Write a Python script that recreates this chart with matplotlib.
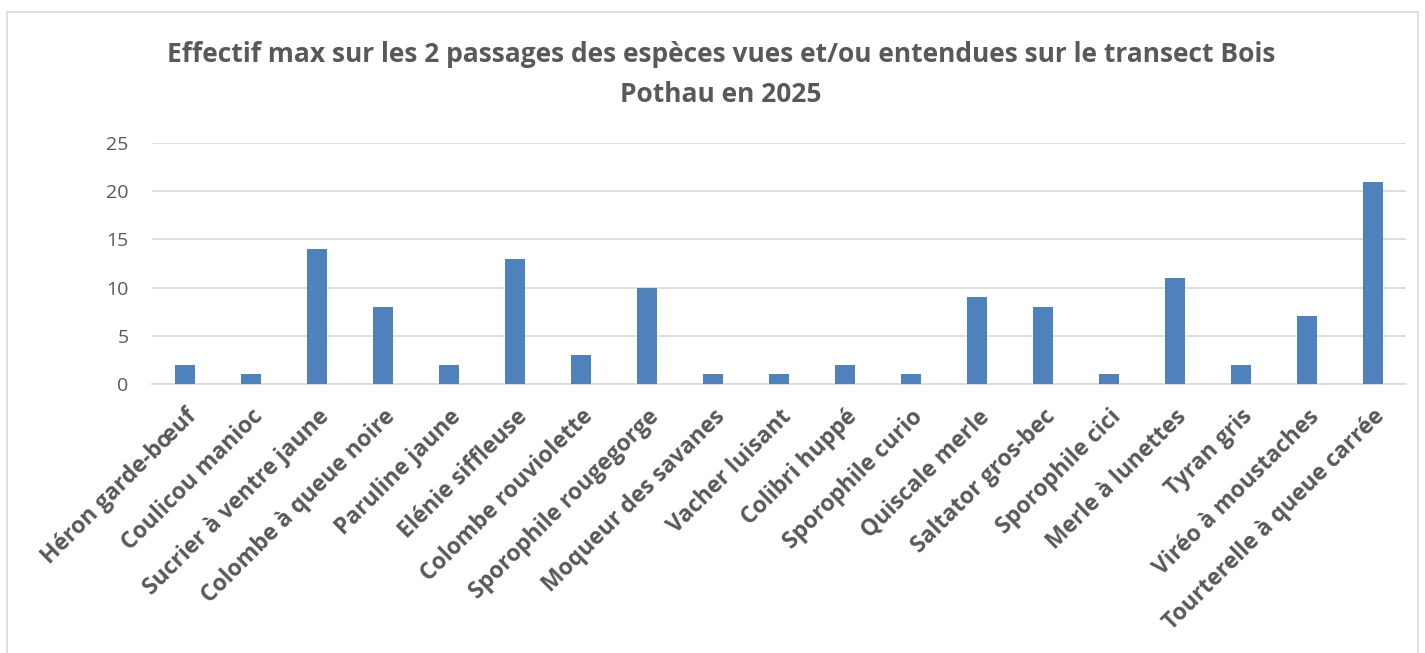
import matplotlib.pyplot as plt
from matplotlib.patches import Rectangle

species = ["Héron garde-bœuf", "Coulicou manioc", "Sucrier à ventre jaune",
           "Colombe à queue noire", "Paruline jaune", "Elénie siffleuse",
           "Colombe rouviolette", "Sporophile rougegorge", "Moqueur des savanes",
           "Vacher luisant", "Colibri huppé", "Sporophile curio", "Quiscale merle",
           "Saltator gros-bec", "Sporophile cici", "Merle à lunettes", "Tyran gris",
           "Viréo à moustaches", "Tourterelle à queue carrée"]
counts = [2, 1, 14, 8, 2, 13, 3, 10, 1, 1, 2, 1, 9, 8, 1, 11, 2, 7, 21]
yticks = [0, 5, 10, 15, 20, 25]

plt.rcParams['font.family'] = ['Open Sans', 'DejaVu Sans']
grey = '#595959'

fig = plt.figure(figsize=(14.25, 6.53), dpi=100)
ax = fig.add_axes([0.1067, 0.412, 0.88, 0.369])

x = range(len(species))
ax.bar(x, counts, width=0.31, color='#4F81BD', zorder=3)
ax.set_xlim(-0.5, len(species) - 0.5)
ax.set_ylim(0, 25)
ax.set_yticks(yticks)
ax.set_yticklabels([str(v) for v in yticks], fontsize=14, color=grey)
ax.set_xticks(list(x))
ax.set_xticklabels(species, rotation=45, ha='right', va='top', rotation_mode='anchor',
                   fontsize=16.5, fontweight='bold', color=grey)
ax.tick_params(length=0)
ax.tick_params(axis='y', pad=17)
ax.tick_params(axis='x', pad=15)
ax.grid(axis='y', color='#D9D9D9', linewidth=1.2, zorder=0)
for s in ['top', 'right', 'left']:
    ax.spines[s].set_visible(False)
ax.spines['bottom'].set_color('#D9D9D9')
ax.spines['bottom'].set_linewidth(1.2)

fig.text(0.506, 0.916, "Effectif max sur les 2 passages des espèces vues et/ou entendues sur le transect Bois",
         ha='center', va='center', fontsize=19, fontweight='bold', color=grey)
fig.text(0.506, 0.855, "Pothau en 2025",
         ha='center', va='center', fontsize=19, fontweight='bold', color=grey)

fig.patches.append(Rectangle((7 / 1425, -0.1), 1411 / 1425, 1 - 12 / 653 + 0.1,
                             transform=fig.transFigure, fill=False,
                             edgecolor='#D9D9D9', linewidth=1.2))

fig.savefig('out.png', dpi=100)
